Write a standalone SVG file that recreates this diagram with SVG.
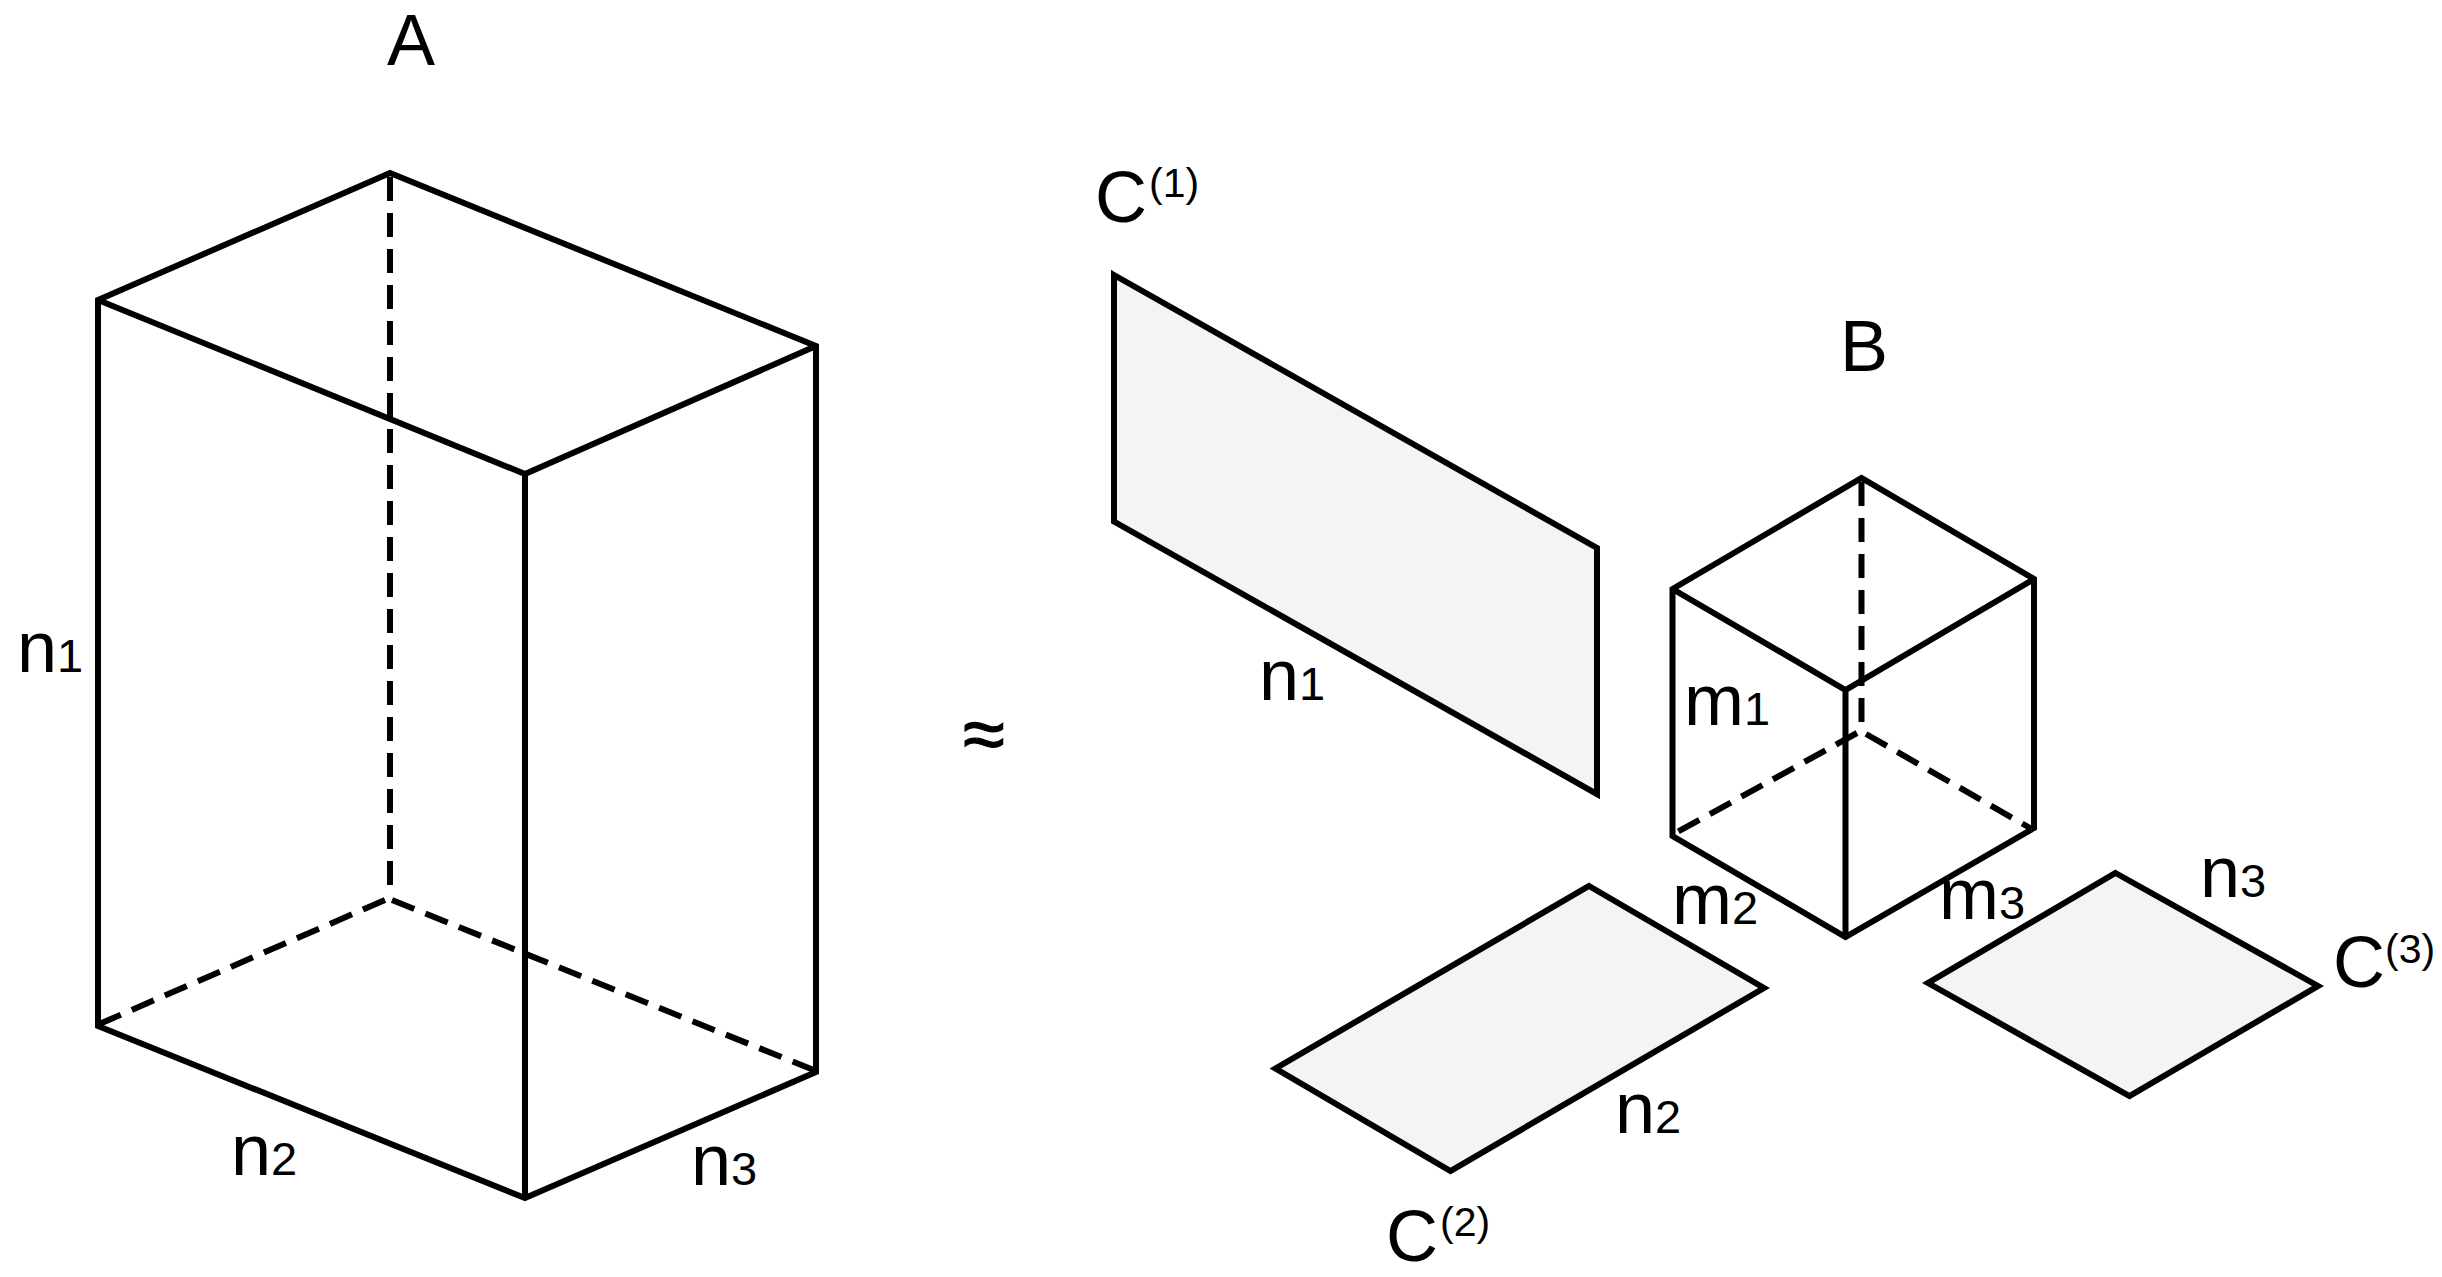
<svg xmlns="http://www.w3.org/2000/svg" width="2442" height="1277" viewBox="0 0 2442 1277">
<style>
.e{fill:none;stroke:#000;stroke-width:6;stroke-linejoin:miter;stroke-miterlimit:4}
.d{fill:none;stroke:#000;stroke-width:6;stroke-dasharray:24 12}
.f{fill:#f4f4f4;stroke:#000;stroke-width:6;stroke-linejoin:miter;stroke-miterlimit:4}
text{font-family:"Liberation Sans",Arial,sans-serif;font-size:72px;fill:#000}
.s{font-size:47px}
.u{font-size:41px}
.a{font-size:76px;stroke:#000;stroke-width:1.2}
</style>
<rect width="2442" height="1277" fill="#fff"/>
<g id="tensor-A">
<line class="d" x1="390" y1="177" x2="390" y2="886"/>
<line class="d" x1="385" y1="900" x2="97" y2="1025"/>
<line class="d" x1="392" y1="900" x2="816" y2="1071"/>
<path class="e" d="M98 300L390 173L816 346L816 1072L525 1198L98 1026Z"/>
<path class="e" d="M98 300L525 474L816 346M525 474L525 1198"/>
<text x="387" y="65">A</text>
<text x="17" y="672">n<tspan class="s">1</tspan></text>
<text x="231" y="1175">n<tspan class="s">2</tspan></text>
<text x="691" y="1185">n<tspan class="s">3</tspan></text>
</g>
<g id="approx"><text class="a" x="963" y="760">≈</text></g>
<g id="factor-C1">
<path class="f" d="M1114 275L1597 548L1597 794L1114 521.500Z"/>
<text x="1095" y="222">C<tspan class="u" x="1149" y="197">(1)</tspan></text>
<text x="1259" y="700">n<tspan class="s">1</tspan></text>
</g>
<g id="core-B">
<line class="d" x1="1861.500" y1="482" x2="1861.500" y2="725"/>
<line class="d" x1="1857" y1="733" x2="1672" y2="835"/>
<line class="d" x1="1866" y1="734" x2="2030" y2="828"/>
<path class="e" d="M1672.500 589L1861.500 478L2034 579L2034 828L1845.500 937L1672.500 836Z"/>
<path class="e" d="M1672.500 589L1845.500 690L2034 579M1845.500 690L1845.500 937"/>
<text x="1840" y="371">B</text>
<text x="1684" y="725">m<tspan class="s">1</tspan></text>
<text x="1672" y="924">m<tspan class="s">2</tspan></text>
<text x="1939" y="919">m<tspan class="s">3</tspan></text>
</g>
<g id="factor-C2">
<path class="f" d="M1589 886L1764 988L1450.500 1171L1275.500 1068.500Z"/>
<text x="1615" y="1133">n<tspan class="s">2</tspan></text>
<text x="1386" y="1261">C<tspan class="u" x="1440" y="1236">(2)</tspan></text>
</g>
<g id="factor-C3">
<path class="f" d="M2115.500 873L2318 986L2129.500 1096L1928 983Z"/>
<text x="2200" y="897">n<tspan class="s">3</tspan></text>
<text x="2333" y="987">C<tspan class="u" x="2385" y="963">(3)</tspan></text>
</g>
</svg>
